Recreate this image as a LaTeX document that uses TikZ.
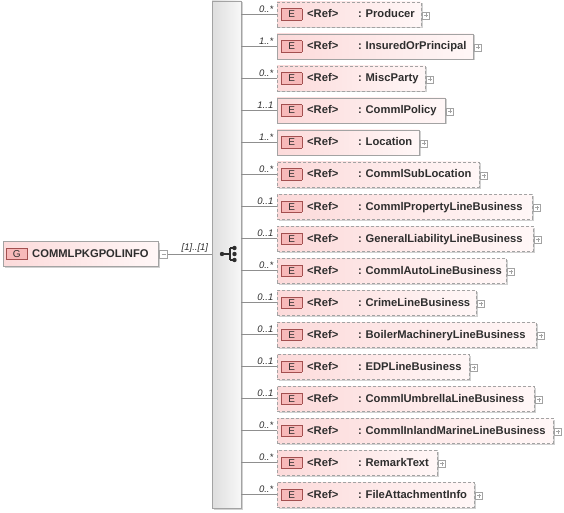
\documentclass[tikz,border=0pt]{standalone}
\usepackage{fontspec}
\setmainfont{Liberation Sans}
\usetikzlibrary{trees}
\usetikzlibrary{shadows}

\definecolor{boxpink}{HTML}{FCDADA}
\definecolor{boxwhite}{HTML}{FFF7F7}
\definecolor{boxline}{HTML}{A3A3A3}
\definecolor{tagfill}{HTML}{F7B9B9}
\definecolor{tagline}{HTML}{A34F4F}
\definecolor{ink}{HTML}{2E2E2E}
\definecolor{wire}{HTML}{8F8F8F}

\newcommand{\xtag}[1]{{\setlength{\fboxsep}{1.5pt}\setlength{\fboxrule}{0.6pt}%
  \fcolorbox{tagline}{tagfill}{\makebox[16.8pt]{\rule[-0.4pt]{0pt}{7.8pt}\mdseries\fontsize{10}{10}\selectfont #1}}}}
\newcommand{\refitem}[1]{\mbox{\xtag{E}\hspace{5pt}\makebox[51pt][l]{<Ref>}:~#1}}

\begin{document}
\begin{tikzpicture}
[x=1pt,y=1pt,thin,%
  every node/.style={text=ink},%
  entrybox/.style={draw=boxline,left color=boxpink,right color=boxwhite,%
    minimum height=25pt,inner xsep=4pt,inner ysep=0pt,anchor=west,align=left,%
    font=\fontsize{11.2}{13}\selectfont\bfseries,%
    drop shadow={shadow xshift=1.5pt,shadow yshift=-1.5pt,fill=black!30,opacity=0.6}},%
  refbox/.style={entrybox,label={[plusbox,xshift=1pt,yshift=-1pt]east:}},%
  optbox/.style={refbox,dash pattern=on 3pt off 2pt},%
  reqbox/.style={refbox},%
  rootbox/.style={entrybox,inner xsep=3pt,label={[minusbox,name=rootminus,xshift=1pt]east:}},%
  plusbox/.style={draw=boxline,solid,fill=white,minimum size=7pt,inner sep=0pt,%
    path picture={\draw[boxline] ([xshift=-2pt]path picture bounding box.center)
      -- ([xshift=2pt]path picture bounding box.center)
      ([yshift=-2pt]path picture bounding box.center)
      -- ([yshift=2pt]path picture bounding box.center);}},%
  minusbox/.style={draw=boxline,solid,fill=white,minimum size=8pt,inner sep=0pt,%
    path picture={\draw[boxline] ([xshift=-2pt]path picture bounding box.center)
      -- ([xshift=2pt]path picture bounding box.center);}},%
  card/.style={pos=1,anchor=south east,inner sep=0pt,xshift=-3.5pt,yshift=1.5pt,%
    font=\fontsize{9.5}{10}\selectfont\itshape},%
  seqbar/.style={draw=boxline,left color=black!13,right color=black!3,%
    minimum width=29pt,minimum height=507pt,inner sep=0pt,%
    drop shadow={shadow xshift=1.5pt,shadow yshift=-1.5pt,fill=black!30,opacity=0.6}}]
\useasboundingbox (0,0) rectangle (564,-513);

\node[rootbox,text width=149pt] (root) at (3,-254) {\xtag{G}\hspace{5pt}COMMLPKGPOLINFO};

\node[seqbar] (seq) at (226.5,-254.5) {}
  [grow'=right,level distance=50.5pt,sibling distance=32pt,%
   edge from parent/.style={draw=wire},%
   edge from parent path={(\tikzparentnode.east |- \tikzchildnode.west) -- (\tikzchildnode.west)}]
  child {node[optbox,text width=136pt] (producer) {\refitem{Producer}}
    edge from parent node[card] {0..*}}
  child {node[reqbox,text width=188pt] (insured) {\refitem{InsuredOrPrincipal}}
    edge from parent node[card] {1..*}}
  child {node[optbox,text width=140pt] (miscparty) {\refitem{MiscParty}}
    edge from parent node[card] {0..*}}
  child {node[reqbox,text width=160pt] (policy) {\refitem{CommlPolicy}}
    edge from parent node[card] {1..1}}
  child {node[reqbox,text width=134pt] (location) {\refitem{Location}}
    edge from parent node[card] {1..*}}
  child {node[optbox,text width=194pt] (sublocation) {\refitem{CommlSubLocation}}
    edge from parent node[card] {0..*}}
  child {node[optbox,text width=247pt] (property) {\refitem{CommlPropertyLineBusiness}}
    edge from parent node[card] {0..1}}
  child {node[optbox,text width=248pt] (liability) {\refitem{GeneralLiabilityLineBusiness}}
    edge from parent node[card] {0..1}}
  child {node[optbox,text width=221pt] (autoline) {\refitem{CommlAutoLineBusiness}}
    edge from parent node[card] {0..*}}
  child {node[optbox,text width=191pt] (crime) {\refitem{CrimeLineBusiness}}
    edge from parent node[card] {0..1}}
  child {node[optbox,text width=251pt] (boiler) {\refitem{BoilerMachineryLineBusiness}}
    edge from parent node[card] {0..1}}
  child {node[optbox,text width=184pt] (edp) {\refitem{EDPLineBusiness}}
    edge from parent node[card] {0..1}}
  child {node[optbox,text width=249pt] (umbrella) {\refitem{CommlUmbrellaLineBusiness}}
    edge from parent node[card] {0..1}}
  child {node[optbox,text width=268pt] (inland) {\refitem{CommlInlandMarineLineBusiness}}
    edge from parent node[card] {0..*}}
  child {node[optbox,text width=152pt] (remark) {\refitem{RemarkText}}
    edge from parent node[card] {0..*}}
  child {node[optbox,text width=189pt] (attachment) {\refitem{FileAttachmentInfo}}
    edge from parent node[card] {0..*}};

\draw[wire] (rootminus.east) -- (rootminus.east -| seq.west) node[card] {[1]..[1]};

\begin{scope}[shift={(seq.center)}]
\draw[ink,line width=1.1pt] (-4.5,0.5) -- (3.5,0.5) (3.5,6.5) -- (3.5,-5.5)
  (3.5,6.5) -- (8,6.5) (3.5,-5.5) -- (8,-5.5);
\fill[ink] (-4.5,0.5) circle (2.2pt) (8,6.5) circle (2.2pt) (8,0.5) circle (2.2pt) (8,-5.5) circle (2.2pt);
\end{scope}
\end{tikzpicture}
\end{document}
